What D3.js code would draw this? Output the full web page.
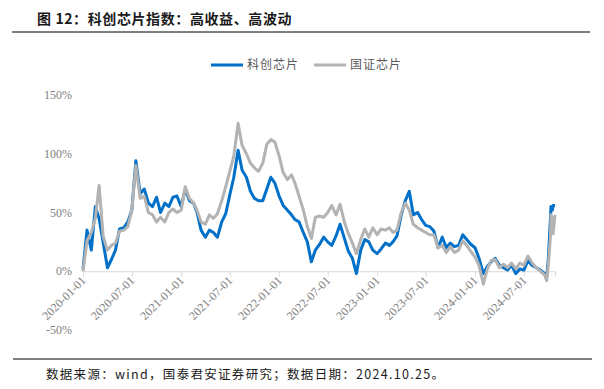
<!DOCTYPE html>
<html>
<head>
<meta charset="utf-8">
<script src="https://cdn.jsdelivr.net/npm/d3@7"></script>
<style>
  body { margin: 0; background: #fff; }
  svg { display: block; }
</style>
</head>
<body>
<svg id="chart" width="604" height="389"></svg>
<script>
// semi-monthly sample dates up to 2024-09-16, then the daily tail of the rally
const tailDates = ["2024-09-24", "2024-09-30", "2024-10-08", "2024-10-10", "2024-10-15", "2024-10-18", "2024-10-25"];

// 科创芯片 cumulative return (%)
const kcChip = [
  2, 35, 18, 55, 45, 25, 3, 10, 18, 36, 37, 42,
  52, 94, 66, 70, 58, 55, 63, 50, 58, 55, 63, 64,
  55, 70, 60, 58, 50, 35, 29, 35, 33, 29, 42, 49,
  65, 80, 103, 86, 80, 68, 62, 60, 60, 70, 80, 75,
  64, 56, 52, 48, 44, 42, 33, 25, 8, 18, 23, 29,
  25, 22, 30, 40, 28, 17, 11, -2, 18, 27, 25, 18,
  15, 19, 24, 22, 25, 30, 48, 60, 68, 48, 50, 44,
  39, 38, 34, 20, 29, 20, 24, 21, 22, 31, 27, 23,
  20, 11, -2, 4, 8, 11, 5, 3, 1, 5, -2, 2,
  1, 9, 5, 3, 1, -2,
  -5, 10, 45, 55, 52, 56, 56
];

// 国证芯片 cumulative return (%)
const gzChip = [
  0, 26, 33, 45, 73, 30, 18, 22, 24, 34, 35, 38,
  52, 90, 62, 64, 50, 48, 42, 46, 42, 50, 53, 50,
  52, 72, 62, 58, 52, 42, 40, 48, 45, 49, 60, 72,
  85, 98, 126, 107, 100, 92, 88, 85, 92, 108, 112, 110,
  98, 84, 78, 82, 75, 64, 52, 38, 28, 46, 47, 46,
  50, 56, 48, 57, 42, 32, 24, 15, 27, 36, 29, 37,
  31, 36, 35, 37, 33, 35, 50, 58, 52, 40, 37, 35,
  33, 31, 31, 20, 22, 16, 21, 16, 18, 26, 22, 17,
  12, 5, -11, 2, 9, 10, 3, 6, 3, 7, 2, 7,
  5, 13, 7, 3, 0, -3,
  -8, 5, 30, 48, 45, 32, 48
];

const xTicks = ["2020-01-01", "2020-07-01", "2021-01-01", "2021-07-01", "2022-01-01",
  "2022-07-01", "2023-01-01", "2023-07-01", "2024-01-01", "2024-07-01"];
const yTicks = [-50, 0, 50, 100, 150];
const seriesNames = ["科创芯片", "国证芯片"];
const seriesColors = ["#0070C8", "#B3B3B3"];

const parse = d3.utcParse("%Y-%m-%d");
const dates = [];
for (let y = 2020; y <= 2024; y++) {
  for (let m = 0; m < 12; m++) {
    for (const day of [1, 16]) {
      const d = new Date(Date.UTC(y, m, day));
      if (d <= parse("2024-09-16")) dates.push(d);
    }
  }
}
tailDates.forEach(s => dates.push(parse(s)));

const series = [kcChip, gzChip].map((vals, k) => ({
  name: seriesNames[k],
  color: seriesColors[k],
  values: vals.map((v, i) => ({ date: dates[i], value: v }))
}));

const svg = d3.select("#chart");

const x = d3.scaleUtc()
  .domain([parse("2020-01-01"), parse("2024-10-25")])
  .range([83, 555]);
const y = d3.scaleLinear()
  .domain([-50, 150])
  .range([330, 95]);

// title and rules
svg.append("text")
  .attr("x", 37).attr("y", 24)
  .attr("font-family", "'Noto Sans CJK SC', sans-serif")
  .attr("font-weight", "bold")
  .attr("font-size", 14)
  .attr("letter-spacing", 0.6)
  .attr("fill", "#1a1a1a")
  .text("图 12：科创芯片指数：高收益、高波动");
svg.append("line")
  .attr("x1", 12).attr("x2", 590).attr("y1", 32).attr("y2", 32)
  .attr("stroke", "#555").attr("stroke-width", 1.5);
svg.append("line")
  .attr("x1", 13).attr("x2", 592).attr("y1", 359).attr("y2", 359)
  .attr("stroke", "#555").attr("stroke-width", 1.5);
svg.append("text")
  .attr("x", 46).attr("y", 379)
  .attr("font-family", "'Noto Sans CJK SC', sans-serif")
  .attr("font-size", 12.5)
  .attr("letter-spacing", 1.3)
  .attr("fill", "#1a1a1a")
  .text("数据来源：wind，国泰君安证券研究；数据日期：2024.10.25。");

// y labels (no axis line)
svg.append("g")
  .selectAll("text")
  .data(yTicks)
  .join("text")
  .attr("x", 72)
  .attr("y", d => y(d))
  .attr("dy", "0.35em")
  .attr("text-anchor", "end")
  .attr("font-family", "'Liberation Serif', serif")
  .attr("font-size", 12)
  .attr("fill", "#808080")
  .text(d => d + "%");

// x axis at 0%
const xAxis = svg.append("g")
  .attr("transform", `translate(0,${y(0)})`)
  .call(d3.axisBottom(x)
    .tickValues(xTicks.map(parse))
    .tickSize(5)
    .tickFormat(d3.utcFormat("%Y-%m-%d")));
xAxis.select(".domain").attr("stroke", "#d9d9d9");
xAxis.selectAll(".tick line").attr("stroke", "#d9d9d9");
xAxis.selectAll(".tick text")
  .attr("font-family", "'Liberation Serif', serif")
  .attr("font-size", 12)
  .attr("fill", "#808080")
  .attr("text-anchor", "end")
  .attr("dy", null)
  .attr("y", 0)
  .attr("transform", "translate(3,10) rotate(-45)");

// lines
const line = d3.line()
  .x(d => x(d.date))
  .y(d => y(d.value));

svg.append("g")
  .selectAll("path")
  .data(series)
  .join("path")
  .attr("d", d => line(d.values))
  .attr("fill", "none")
  .attr("stroke", d => d.color)
  .attr("stroke-width", 3)
  .attr("stroke-linejoin", "round");

// legend
const legendX = [211, 314];
const legend = svg.append("g")
  .selectAll("g")
  .data(series)
  .join("g")
  .attr("transform", (d, i) => `translate(${legendX[i]},65)`);
legend.append("line")
  .attr("x1", 0).attr("x2", 32)
  .attr("stroke", d => d.color)
  .attr("stroke-width", 3);
legend.append("text")
  .attr("x", 36)
  .attr("dy", "0.35em")
  .attr("font-family", "'Noto Sans CJK SC', sans-serif")
  .attr("font-size", 12)
  .attr("letter-spacing", 1)
  .attr("fill", "#595959")
  .text(d => d.name);
</script>
</body>
</html>
